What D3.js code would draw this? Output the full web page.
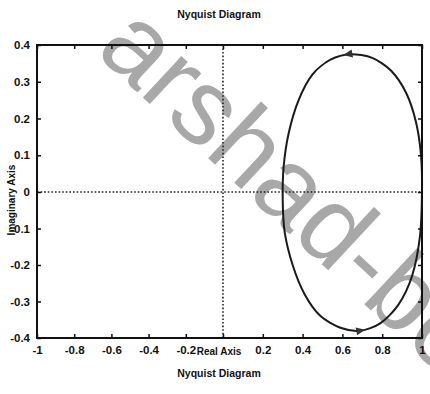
<!DOCTYPE html>
<html><head><meta charset="utf-8">
<script src="https://cdn.jsdelivr.net/npm/d3@7"></script>
<style>body{margin:0;background:#fff}svg{display:block}</style>
</head><body>
<script>
const titleText = "Nyquist Diagram";
const xLabel = "Real Axis";
const yLabel = "Imaginary Axis";
const watermark = "arshad-bo";
const xTicks = [-1, -0.8, -0.6, -0.4, -0.2, 0, 0.2, 0.4, 0.6, 0.8, 1];
const xTickLabels = ["-1", "-0.8", "-0.6", "-0.4", "-0.2", "", "0.2", "0.4", "0.6", "0.8", "1"];
const yTicks = [-0.4, -0.3, -0.2, -0.1, 0, 0.1, 0.2, 0.3, 0.4];
const yTickLabels = ["-0.4", "-0.3", "-0.2", "-0.1", "0", "0.1", "0.2", "0.3", "0.4"];
// Nyquist curve points (real, imaginary)
const curveRe = [1.00, 0.995, 0.97, 0.92, 0.845, 0.75, 0.64, 0.54, 0.45, 0.38, 0.33, 0.305, 0.30, 0.31, 0.35, 0.41, 0.49, 0.59, 0.69, 0.79, 0.88, 0.95, 0.99];
const curveIm = [0.00, 0.10, 0.19, 0.27, 0.33, 0.365, 0.375, 0.36, 0.32, 0.25, 0.16, 0.07, -0.02, -0.11, -0.20, -0.28, -0.34, -0.372, -0.38, -0.36, -0.31, -0.23, -0.12];
// arrow markers: position and travel direction (next point)
const arrowRe = [0.63, 0.69];
const arrowIm = [0.375, -0.38];
const arrowToRe = [0.58, 0.74];
const arrowToIm = [0.37, -0.375];

const W = 430, H = 394;
const svg = d3.select("body").append("svg").attr("width", W).attr("height", H);

const x = d3.scaleLinear().domain([-1, 0, 1]).range([37, 223, 422]);
const y = d3.scaleLinear().domain([-0.4, 0, 0.4]).range([338, 192, 45]);
const font = "'Liberation Sans', Arial, sans-serif";

// watermark (below chart)
svg.append("text")
  .attr("transform", "translate(94,52) rotate(43)")
  .attr("font-family", font).attr("font-size", 107)
  .attr("fill", "#a8a8a8")
  .text(watermark);

const g = svg.append("g");

// zero lines
g.append("line").attr("x1", x(-1)).attr("x2", x(1)).attr("y1", y(0)).attr("y2", y(0))
  .attr("stroke", "#222").attr("stroke-width", 1.6).attr("stroke-dasharray", "1.6,2");
g.append("line").attr("x1", x(0)).attr("x2", x(0)).attr("y1", y(-0.4)).attr("y2", y(0.4))
  .attr("stroke", "#222").attr("stroke-width", 1.6).attr("stroke-dasharray", "1.6,2");

// curve
const pts = curveRe.map((r, i) => [r, curveIm[i]]);
g.append("path").datum(pts)
  .attr("d", d3.line().x(d => x(d[0])).y(d => y(d[1])).curve(d3.curveCardinalClosed.tension(0.2)))
  .attr("fill", "none").attr("stroke", "#1a1a1a").attr("stroke-width", 2);

// arrows
arrowRe.forEach((r, i) => {
  const px = x(r), py = y(arrowIm[i]);
  const ang = Math.atan2(y(arrowToIm[i]) - py, x(arrowToRe[i]) - px) * 180 / Math.PI;
  g.append("path").attr("d", "M5,0 L-4,-4 L-4,4 Z")
    .attr("transform", `translate(${px},${py}) rotate(${ang})`)
    .attr("fill", "#333");
});

// axes with inward ticks
const tk = 4;
const axB = d3.axisBottom(x).tickValues(xTicks).tickSize(-tk).tickFormat((d, i) => xTickLabels[i]).tickPadding(8);
const axT = d3.axisTop(x).tickValues(xTicks).tickSize(-tk).tickFormat("");
const axL = d3.axisLeft(y).tickValues(yTicks).tickSize(-tk).tickFormat((d, i) => yTickLabels[i]).tickPadding(7);
const axR = d3.axisRight(y).tickValues(yTicks).tickSize(-tk).tickFormat("");
function style(sel) {
  sel.select(".domain").remove();
  sel.selectAll("line").attr("stroke", "#111").attr("stroke-width", 1.5);
  sel.selectAll("text").attr("font-family", font).attr("font-weight", "bold").attr("font-size", 11.5).attr("fill", "#111");
}
g.append("g").attr("transform", `translate(0,${y(-0.4)})`).call(axB).call(style);
g.append("g").attr("transform", `translate(0,${y(0.4)})`).call(axT).call(style);
g.append("g").attr("transform", `translate(${x(-1)},0)`).call(axL).call(style);
g.append("g").attr("transform", `translate(${x(1)},0)`).call(axR).call(style);

// frame
g.append("rect").attr("x", x(-1)).attr("y", y(0.4)).attr("width", x(1) - x(-1)).attr("height", y(-0.4) - y(0.4))
  .attr("fill", "none").attr("stroke", "#111").attr("stroke-width", 2);

// labels
g.append("text").attr("x", 219).attr("y", 18).attr("text-anchor", "middle")
  .attr("font-family", font).attr("font-weight", "bold").attr("font-size", 10.5).attr("fill", "#111").text(titleText);
g.append("text").attr("x", 219).attr("y", 377).attr("text-anchor", "middle")
  .attr("font-family", font).attr("font-weight", "bold").attr("font-size", 10.5).attr("fill", "#111").text(titleText);
g.append("text").attr("x", 219).attr("y", 355).attr("text-anchor", "middle")
  .attr("font-family", font).attr("font-weight", "bold").attr("font-size", 10).attr("fill", "#111").text(xLabel);
g.append("text").attr("transform", "translate(15,200) rotate(-90)").attr("text-anchor", "middle")
  .attr("font-family", font).attr("font-weight", "bold").attr("font-size", 10).attr("fill", "#111").text(yLabel);
</script>
</body></html>
